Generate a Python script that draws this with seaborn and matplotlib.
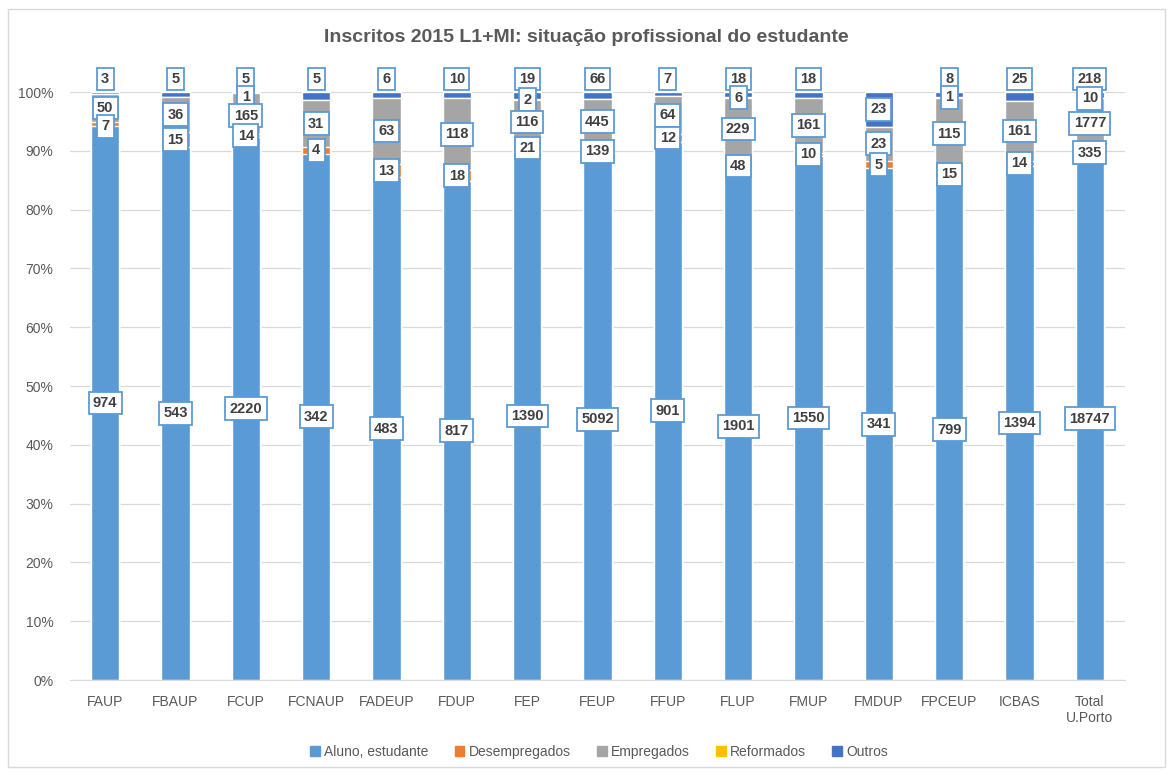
import numpy as np
import pandas as pd
import matplotlib
matplotlib.use("Agg")
import matplotlib.pyplot as plt
import matplotlib.patches as mpatches
import seaborn as sns

# ── data ──────────────────────────────────────────────────────────
faculdades = ["FAUP", "FBAUP", "FCUP", "FCNAUP", "FADEUP", "FDUP", "FEP", "FEUP",
              "FFUP", "FLUP", "FMUP", "FMDUP", "FPCEUP", "ICBAS", "Total\nU.Porto"]
aluno = [974, 543, 2220, 342, 483, 817, 1390, 5092, 901, 1901, 1550, 341, 799, 1394, 18747]
desempregados = [7, 15, 14, 4, 13, 18, 21, 139, 12, 48, 10, 5, 15, 14, 335]
empregados = [50, 36, 165, 31, 63, 118, 116, 445, 64, 229, 161, 23, 115, 161, 1777]
reformados = [0, 0, 1, 0, 0, 0, 2, 0, 0, 6, 0, 0, 1, 0, 10]
outros = [3, 5, 5, 5, 6, 10, 19, 66, 7, 18, 18, 23, 8, 25, 218]

series = ["Aluno, estudante", "Desempregados", "Empregados", "Reformados", "Outros"]
colors = ["#5B9BD5", "#ED7D31", "#A5A5A5", "#FFC000", "#4472C4"]

GRAY = "#595959"; GRID = "#D9D9D9"

sns.set_style("white")
plt.rcParams["font.family"] = ["Liberation Sans", "DejaVu Sans"]

counts = np.array([aluno, desempregados, empregados, reformados, outros], dtype=float)
share = counts / counts.sum(axis=0)
cum = np.cumsum(share, axis=0)

fig = plt.figure(figsize=(11.72, 7.71), dpi=100)
ax = fig.add_axes([70 / 1172, 91 / 771, 1055 / 1172, 588 / 771])

# stacked bars: draw cumulative tops from the top series down
for k in range(len(series) - 1, -1, -1):
    df = pd.DataFrame({"fac": faculdades, "v": cum[k]})
    sns.barplot(data=df, x="fac", y="v", color=colors[k], width=0.4,
                saturation=1, ax=ax, zorder=2)

ax.set_xlim(-0.5, len(faculdades) - 0.5)
ax.set_ylim(0, 1)
ax.set_yticks(np.arange(0, 1.01, 0.1))
ax.set_yticklabels([f"{int(round(t * 100))}%" for t in np.arange(0, 1.01, 0.1)])
ax.yaxis.grid(True, color=GRID, lw=0.9, zorder=0)
ax.set_axisbelow(True)
for s in ["top", "right", "left"]:
    ax.spines[s].set_visible(False)
ax.spines["bottom"].set_color(GRID)
ax.tick_params(axis="both", length=0, colors=GRAY, labelsize=10)
ax.tick_params(axis="x", pad=11)
ax.tick_params(axis="y", pad=12)
ax.set_xlabel(""); ax.set_ylabel("")

# data labels (centered, small segments nudged so boxes do not collide)
gap = 0.031
box = dict(boxstyle="square,pad=0.3", fc="white", ec="#5B9BD5", lw=1.3)
for i in range(len(faculdades)):
    prev = None
    for k in range(len(series) - 1, -1, -1):
        if counts[k, i] == 0:
            continue
        lo = cum[k - 1, i] if k > 0 else 0.0
        center = (lo + cum[k, i]) / 2
        if k == 4:
            pos = center if share[k, i] > 0.04 else 1.022
        elif k == 0:
            pos = center
        else:
            pos = min(center, prev - gap)
        prev = pos
        ax.text(i, pos, f"{int(counts[k, i])}", ha="center", va="center",
                fontsize=10.5, fontweight="bold", color="#404040",
                bbox=box, zorder=5, clip_on=False)

fig.text(0.5, 1 - 37 / 771, "Inscritos 2015 L1+MI: situação profissional do estudante",
         ha="center", va="center", fontsize=14, fontweight="bold", color=GRAY)

handles = [mpatches.Patch(color=c, label=s) for s, c in zip(series, colors)]
fig.legend(handles=handles, loc="center", bbox_to_anchor=(0.511, 1 - 752 / 771),
           ncol=5, frameon=False, fontsize=10, handlelength=0.7, handleheight=0.7,
           handletextpad=0.3, columnspacing=1.9, labelcolor=GRAY)

# outer chart border
fig.patches.append(mpatches.Rectangle((8 / 1172, 4 / 771), 1157 / 1172, 758 / 771,
                                      transform=fig.transFigure, fill=False,
                                      ec=GRID, lw=1))

fig.savefig("out.png", dpi=100, facecolor="white")
